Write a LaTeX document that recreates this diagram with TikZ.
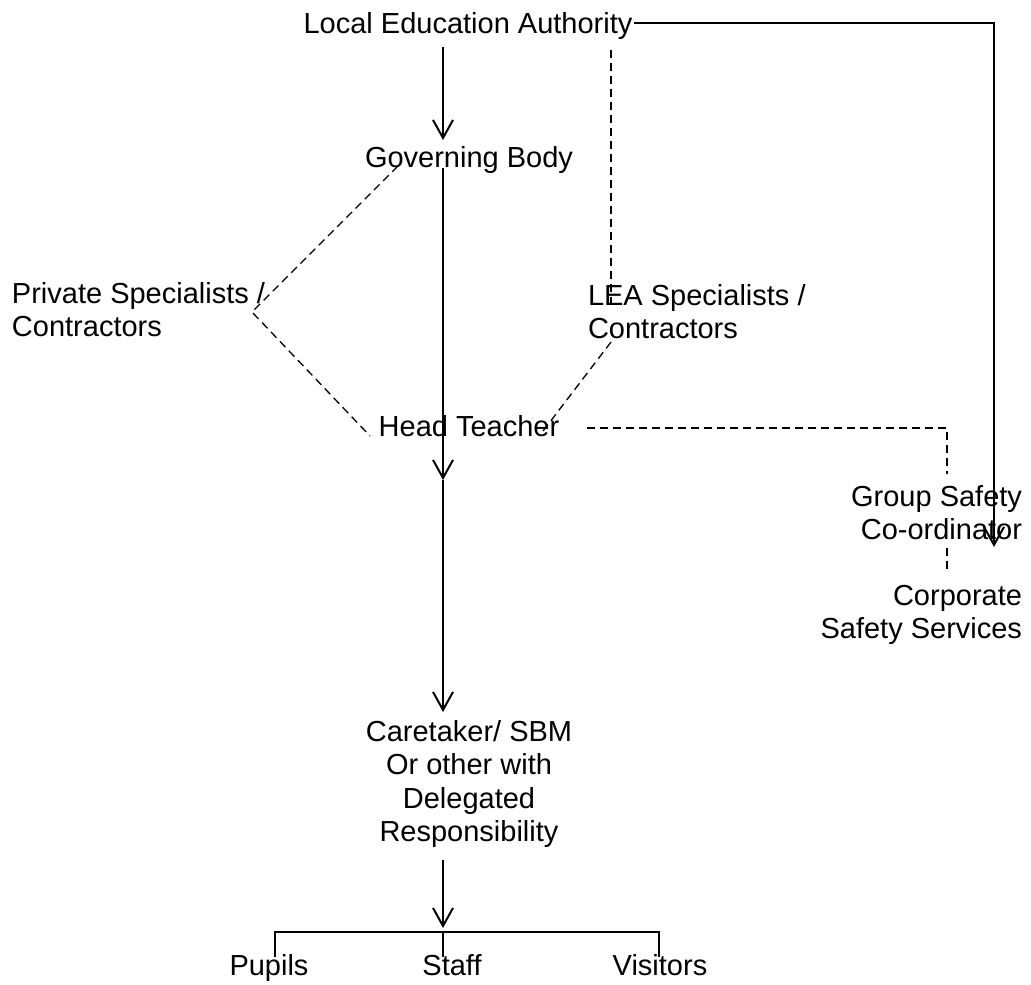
\documentclass[tikz,border=0pt]{standalone}
\usepackage{fontspec}
\setmainfont{Liberation Sans}
\usetikzlibrary{arrows.meta,calc}
\newcommand\mlines[2]{\begin{tabular}[t]{@{}#1@{}}#2\end{tabular}}
\begin{document}
\begin{tikzpicture}[x=1pt,y=-1pt,
  lbl/.style={inner sep=0pt, outer sep=0pt, font=\fontsize{29}{33.5}\selectfont},
  link/.style={line width=2pt},
  arr/.style={link, -{Straight Barb[length=18pt,width=20pt,line width=2pt]}},
  dashlink/.style={line width=1.3pt, dash pattern=on 8pt off 5pt},
  bus/.style={line width=1.5pt}]
\path[fill=white,use as bounding box] (0,0) rectangle (1031,985);

% nodes
\node[lbl, anchor=base] (lea) at (468,33) {Local Education Authority};
\node[lbl, anchor=base] (gb) at (469,167) {Governing Body};
\node[lbl, anchor=base west] (psc) at (12,303) {\mlines{l}{Private Specialists /\\Contractors}};
\node[lbl, anchor=base west] (lsc) at (588,305) {\mlines{l}{LEA Specialists /\\Contractors}};
\node[lbl, anchor=base] (ht) at (469,436) {Head Teacher};
\node[lbl, anchor=base east] (gsc) at (1022,506) {\mlines{r}{Group Safety\\Co-ordinator}};
\node[lbl, anchor=base east] (css) at (1022,605) {\mlines{r}{Corporate\\Safety Services}};
\node[lbl, anchor=base] (ct) at (469,741) {\mlines{c}{Caretaker/ SBM\\Or other with\\Delegated\\Responsibility}};
\node[lbl, anchor=base] (pupils) at (269,975) {Pupils};
\node[lbl, anchor=base] (staff) at (452,975) {Staff};
\node[lbl, anchor=base] (visitors) at (660,975) {Visitors};

\coordinate (gscin) at ($(gsc.base east)+(-28,41)$);
\coordinate (pscv) at ($(psc.base west)+(240,9)$);

% solid chain of command
\draw[arr] ($(lea.base)+(-25,14)$) -- ($(gb.base)+(-26,-27)$);
\draw[arr] ($(gb.base)+(-26,1)$) -- ($(ht.base)+(-26,44)$);
\draw[arr] ($(ht.base)+(-26,44)$) -- ($(ct.base)+(-26,-29)$);
\draw[arr] ($(ct.base)+(-26,119)$) -- ($(staff.base)+(-9,-47)$);
\draw[arr] ($(lea.east)+(2,-2.5)$) -| (gscin);

% bus to pupils / staff / visitors
\draw[bus] ($(pupils.base)+(6,-18)$) -- ++(0,-25) -| ($(visitors.base)+(-1,-18)$);
\draw[bus] ($(staff.base)+(-9,-18)$) -- ++(0,-25);

% dashed advisory links
\draw[dashlink] ($(lea.base)+(143,17)$) -- ($(lsc.base west)+(23,0)$);
\draw[dashlink] ($(lsc.base west)+(23,37)$) -- ($(ht.base)+(71,-1)$);
\draw[dashlink] ($(gb.base)+(-71,-1)$) -- (pscv) -- ($(ht.base)+(-99,0)$);
\draw[dashlink] ($(ht.base)+(118,-8)$) -| ($(gsc.base east)+(-75,-32)$);
\draw[dashlink] ($(gsc.base east)+(-75,42)$) -- ($(css.base east)+(-75,-35)$);
\end{tikzpicture}
\end{document}
